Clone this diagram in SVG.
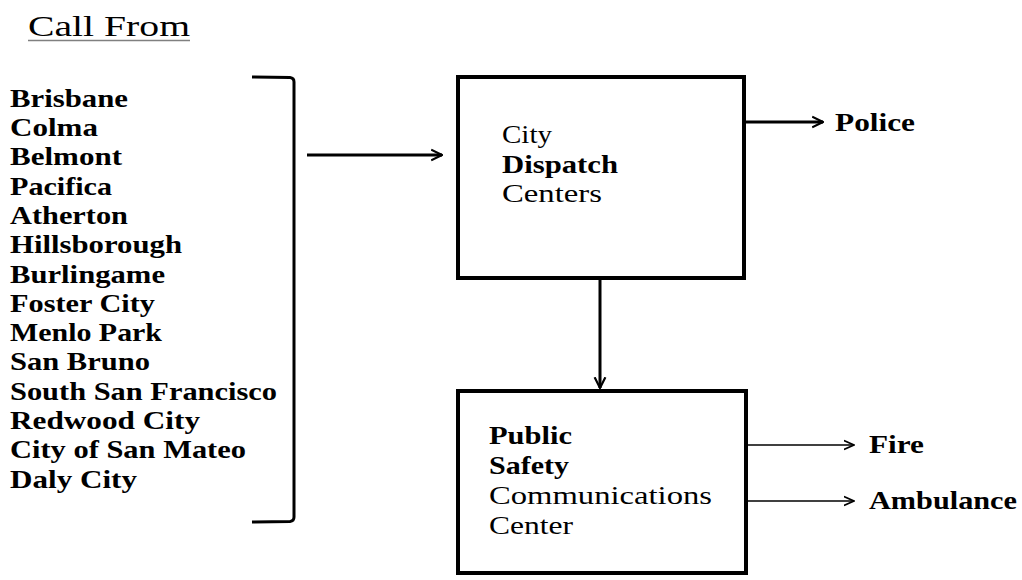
<svg xmlns="http://www.w3.org/2000/svg" width="1022" height="580" viewBox="0 0 1022 580">
<style>
text{fill:#000}
.t{font-size:30px}
.c{font-size:26px;font-weight:bold}
.b{font-size:26px}
.bb{font-size:26px;font-weight:bold}
.box{fill:#fff;stroke:#000;stroke-width:4}
.thick{fill:none;stroke:#000;stroke-width:3}
.thin{fill:none;stroke:#000;stroke-width:1.6}
</style>
<defs>
<marker id="ah" viewBox="0 0 10 10" refX="9" refY="5" markerWidth="4" markerHeight="4.5" orient="auto" markerUnits="strokeWidth">
<path d="M0,0.5 L9,5 L0,9.5" fill="none" stroke="#000" stroke-width="1.8"/>
</marker>
<marker id="ahs" viewBox="0 0 10 10" refX="9" refY="5" markerWidth="7" markerHeight="7" orient="auto" markerUnits="strokeWidth">
<path d="M0,1 L9,5 L0,9" fill="none" stroke="#000" stroke-width="1.4"/>
</marker>
</defs>
<rect width="1022" height="580" fill="#fff"/>
<g font-family="Liberation Serif, DejaVu Serif, serif">
<g id="title">
<text class="t" x="28" y="36" textLength="162" lengthAdjust="spacingAndGlyphs">Call From</text>
<line x1="28" y1="40.5" x2="190" y2="40.5" stroke="#808080" stroke-width="1.5"/>
</g>
<g id="cities">
<text class="c" x="10" y="107" textLength="118" lengthAdjust="spacingAndGlyphs">Brisbane</text>
<text class="c" x="10" y="136" textLength="88" lengthAdjust="spacingAndGlyphs">Colma</text>
<text class="c" x="10" y="165" textLength="112" lengthAdjust="spacingAndGlyphs">Belmont</text>
<text class="c" x="10" y="195" textLength="102" lengthAdjust="spacingAndGlyphs">Pacifica</text>
<text class="c" x="10" y="224" textLength="118" lengthAdjust="spacingAndGlyphs">Atherton</text>
<text class="c" x="10" y="253" textLength="172" lengthAdjust="spacingAndGlyphs">Hillsborough</text>
<text class="c" x="10" y="283" textLength="155" lengthAdjust="spacingAndGlyphs">Burlingame</text>
<text class="c" x="10" y="312" textLength="145" lengthAdjust="spacingAndGlyphs">Foster City</text>
<text class="c" x="10" y="341" textLength="152" lengthAdjust="spacingAndGlyphs">Menlo Park</text>
<text class="c" x="10" y="370" textLength="140" lengthAdjust="spacingAndGlyphs">San Bruno</text>
<text class="c" x="10" y="400" textLength="267" lengthAdjust="spacingAndGlyphs">South San Francisco</text>
<text class="c" x="10" y="429" textLength="190" lengthAdjust="spacingAndGlyphs">Redwood City</text>
<text class="c" x="10" y="458" textLength="236" lengthAdjust="spacingAndGlyphs">City of San Mateo</text>
<text class="c" x="10" y="488" textLength="127" lengthAdjust="spacingAndGlyphs">Daly City</text>
</g>
<g id="bracket">
<path class="thick" d="M252,77 L290,77.5 Q294,78 294,82 L294,517 Q294,521 290,521.5 L252,522"/>
</g>
<g id="dispatch">
<rect class="box" x="458" y="77" width="286" height="201"/>
<text class="b" x="502" y="143" textLength="50" lengthAdjust="spacingAndGlyphs">City</text>
<text class="bb" x="502" y="173" textLength="116" lengthAdjust="spacingAndGlyphs">Dispatch</text>
<text class="b" x="502" y="202" textLength="100" lengthAdjust="spacingAndGlyphs">Centers</text>
</g>
<g id="psc">
<rect class="box" x="458" y="391" width="288" height="182"/>
<text class="bb" x="489" y="444" textLength="83" lengthAdjust="spacingAndGlyphs">Public</text>
<text class="bb" x="489" y="474" textLength="80" lengthAdjust="spacingAndGlyphs">Safety</text>
<text class="b" x="489" y="504" textLength="223" lengthAdjust="spacingAndGlyphs">Communications</text>
<text class="b" x="489" y="534" textLength="84" lengthAdjust="spacingAndGlyphs">Center</text>
</g>
<g id="outputs">
<text class="bb" x="835" y="131" textLength="80" lengthAdjust="spacingAndGlyphs">Police</text>
<text class="bb" x="869" y="453" textLength="55" lengthAdjust="spacingAndGlyphs">Fire</text>
<text class="bb" x="869" y="509" textLength="148" lengthAdjust="spacingAndGlyphs">Ambulance</text>
</g>
</g>
<g id="connectors">
<line class="thick" x1="307" y1="155" x2="442" y2="155" marker-end="url(#ah)"/>
<line class="thick" x1="746" y1="122" x2="823" y2="122" marker-end="url(#ah)"/>
<line class="thick" x1="600" y1="280" x2="600" y2="388" marker-end="url(#ah)"/>
<line class="thin" x1="746" y1="445" x2="854" y2="445" marker-end="url(#ahs)"/>
<line class="thin" x1="746" y1="501" x2="854" y2="501" marker-end="url(#ahs)"/>
</g>
</svg>
